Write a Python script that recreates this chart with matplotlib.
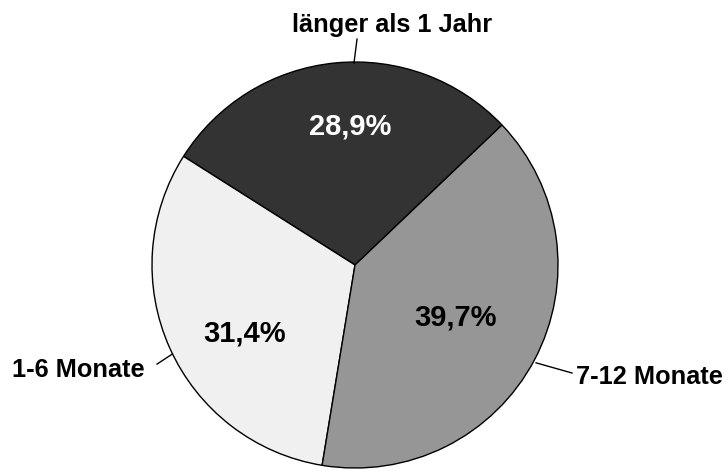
import matplotlib
matplotlib.use("Agg")
import matplotlib.pyplot as plt

# data (counter-clockwise from the upper right)
categories = ["länger als 1 Jahr", "1-6 Monate", "7-12 Monate"]
shares = [28.9, 31.4, 39.7]
pct_labels = ["28,9%", "31,4%", "39,7%"]
colors = ["#333333", "#f0f0f0", "#969696"]
pct_colors = ["white", "black", "black"]

# label positions (data units, pie radius = 1)
pct_pos = [(-0.025, 0.68), (-0.545, -0.335), (0.495, -0.26)]
cat_text = [(0.185, 1.148), (-1.362, -0.554), (1.451, -0.586)]
cat_line = [((-0.005, 0.995), (0.01, 1.113)),
            ((-0.899, -0.438), (-0.975, -0.488)),
            ((0.892, -0.482), (1.069, -0.532))]

plt.rcParams["font.family"] = ["Liberation Sans", "DejaVu Sans"]

fig = plt.figure(figsize=(7.26, 4.71), dpi=100)
ax = fig.add_axes([152 / 726, 3 / 471, 406 / 726, 406 / 471])

wedges, _ = ax.pie(shares, colors=colors, startangle=43.6, counterclock=True,
                   radius=1, wedgeprops=dict(edgecolor="black", linewidth=1))
ax.set_xlim(-1, 1)
ax.set_ylim(-1, 1)
ax.set_aspect("equal")
ax.axis("off")

for txt, (x, y), c in zip(pct_labels, pct_pos, pct_colors):
    ax.text(x, y, txt, ha="center", va="center", color=c,
            fontsize=21, fontweight="bold")

for name, (tx, ty), (p0, p1) in zip(categories, cat_text, cat_line):
    ax.plot([p0[0], p1[0]], [p0[1], p1[1]], color="black", lw=1, clip_on=False)
    ax.text(tx, ty, name, ha="center", va="baseline", color="black",
            fontsize=18.3, fontweight="bold", clip_on=False)

fig.savefig("out.png", dpi=100)
